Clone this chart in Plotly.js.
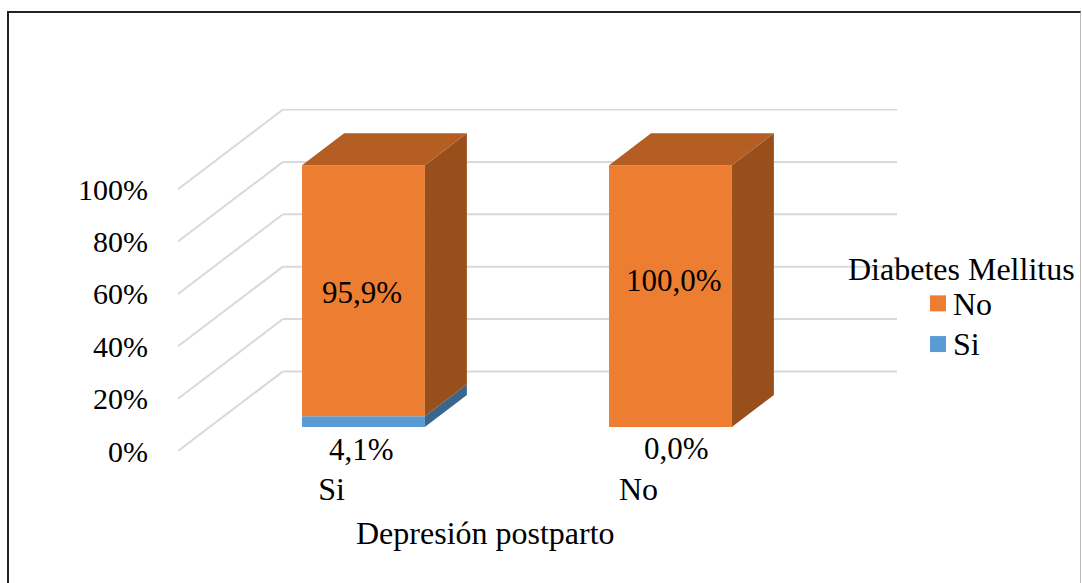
<!DOCTYPE html>
<html>
<head>
<meta charset="utf-8">
<script src="https://cdn.plot.ly/plotly-3.0.1.min.js"></script>
<style>
html,body{margin:0;padding:0;background:#fff;overflow:hidden}
#frame{position:absolute;left:7px;top:11px;width:1074px;height:580px;border-left:2px solid #222;border-top:2px solid #222;border-right:1px solid #bbb;box-sizing:border-box}
#chart{position:absolute;left:0;top:0;width:1082px;height:583px}
</style>
</head>
<body>
<div id="frame"></div>
<div id="chart"></div>
<script>
// Chart values
const categories = ['Si', 'No'];
const catPositions = [0, 1];
const seriesSi = [4.1, 0.0];
const seriesNo = [95.9, 100.0];
const siLabels = ['4,1%', '0,0%'];
const noLabels = ['95,9%', '100,0%'];
const yTicks = [0, 20, 40, 60, 80, 100];
const yTickLabels = ['0%', '20%', '40%', '60%', '80%', '100%'];

// Label anchors, in axis units
const siLabelX = [0.099, 1.125];
const siLabelY = [0.4, 1.1];
const noLabelX = [0.098, 1.116];
const noLabelY = [60.7, 65.2];

// 3D look, in axis units
const wallDX = 0.342, wallDY = 30.4;    // floor depth
const barShift = 0.104, barLift = 9.16; // bar sits mid-floor
const barWidth = 0.40;
const barDX = 0.137, barDY = 12.2;      // bar depth

const orange = '#ED7D31', orangeTop = '#B55E23', orangeSide = '#994F1C';
const blue = '#5B9BD5', blueSide = '#3A668C';
const grid = '#D9D9D9';
const serif = 'Liberation Serif, Times New Roman, serif';
const labelSize = 31, tickSize = 30, textSize = 32, legendRowSize = 29;

const traces = [];
function face(xs, ys, color) {
  traces.push({type:'scatter', mode:'lines', x:xs.concat(xs[0]), y:ys.concat(ys[0]),
    fill:'toself', fillcolor:color, line:{width:0, color:color}, hoverinfo:'skip', showlegend:false});
}

const centers = catPositions.map(p => p + barShift);
const siBase = seriesSi.map(() => barLift);
const noBase = seriesSi.map(v => barLift + v);
traces.push({type:'bar', name:'Si', x:centers, y:seriesSi, base:siBase, width:barWidth,
  marker:{color:blue, line:{width:0}}, showlegend:false});
traces.push({type:'bar', name:'No', x:centers, y:seriesNo, base:noBase, width:barWidth,
  marker:{color:orange, line:{width:0}}, showlegend:false});

centers.forEach((c, i) => {
  const r = c + barWidth/2, l = c - barWidth/2;
  const y0 = barLift, y1 = barLift + seriesSi[i], y2 = y1 + seriesNo[i];
  if (seriesSi[i] > 0) {
    face([r, r+barDX, r+barDX, r], [y0, y0+barDY, y1+barDY, y1], blueSide);
  }
  face([r, r+barDX, r+barDX, r], [y1, y1+barDY, y2+barDY, y2], orangeSide);
  face([l, l+barDX, r+barDX, r], [y2, y2+barDY, y2+barDY, y2], orangeTop);
});

// Legend keys
traces.push({type:'scatter', mode:'markers', name:'No', x:[null], y:[null],
  marker:{symbol:'square', size:16, color:orange}});
traces.push({type:'scatter', mode:'markers', name:'Si', x:[null], y:[null],
  marker:{symbol:'square', size:16, color:blue}});

// Walls
const xLeft = -0.5, xRight = 1.5;
const shapes = [];
yTicks.forEach(v => {
  shapes.push({type:'line', layer:'below', xref:'x', yref:'y', x0:xLeft, y0:v, x1:xLeft+wallDX, y1:v+wallDY,
    line:{color:grid, width:2}});
  shapes.push({type:'line', layer:'below', xref:'x', yref:'y', x0:xLeft+wallDX, y0:v+wallDY, x1:xRight+wallDX, y1:v+wallDY,
    line:{color:grid, width:2}});
});

const annotations = [];
function label(x, y, text) {
  annotations.push({xref:'x', yref:'y', x:x, y:y, text:text, showarrow:false,
    xanchor:'center', yanchor:'middle', font:{family:serif, size:labelSize, color:'#000'}});
}
siLabels.forEach((t, i) => label(siLabelX[i], siLabelY[i], t));
noLabels.forEach((t, i) => label(noLabelX[i], noLabelY[i], t));
// Axis title and legend heading
annotations.push({xref:'x', yref:'paper', x:0.5, y:-0.239, yanchor:'middle', xanchor:'center', showarrow:false,
  text:'Depresión postparto', font:{family:serif, size:textSize, color:'#000'}});
annotations.push({xref:'paper', yref:'paper', x:1.0+64/719, y:1-(269-109)/342, yanchor:'middle', xanchor:'center', showarrow:false,
  text:'Diabetes Mellitus', font:{family:serif, size:textSize, color:'#000'}});

const layout = {
  width:1082, height:583,
  paper_bgcolor:'rgba(0,0,0,0)', plot_bgcolor:'rgba(0,0,0,0)',
  margin:{l:178, r:185, t:109, b:132, pad:0},
  barmode:'overlay', showlegend:true,
  xaxis:{type:'linear', range:[xLeft, xRight+wallDX], tickmode:'array', tickvals:catPositions, ticktext:categories,
    showgrid:false, zeroline:false, showline:false, ticks:'', ticklabelstandoff:16,
    tickfont:{family:serif, size:textSize, color:'#000'}},
  yaxis:{type:'linear', range:[0, 130.6], tickmode:'array', tickvals:yTicks, ticktext:yTickLabels,
    showgrid:false, zeroline:false, showline:false, ticks:'', ticklabelstandoff:29,
    tickfont:{family:serif, size:tickSize, color:'#000'}},
  legend:{x:1+(918-897)/719, xanchor:'left', y:1-(278-109)/342, yanchor:'top', traceorder:'normal',
    bgcolor:'rgba(0,0,0,0)', font:{family:serif, size:legendRowSize, color:'#000'}, itemclick:false, itemdoubleclick:false},
  shapes:shapes, annotations:annotations
};
Plotly.newPlot('chart', traces, layout, {displayModeBar:false, staticPlot:true}).then(() => {
  document.querySelectorAll('.legendtext').forEach(t => {
    t.setAttribute('x', 35);
    t.style.fontSize = textSize + 'px';
  });
});
</script>
</body>
</html>
